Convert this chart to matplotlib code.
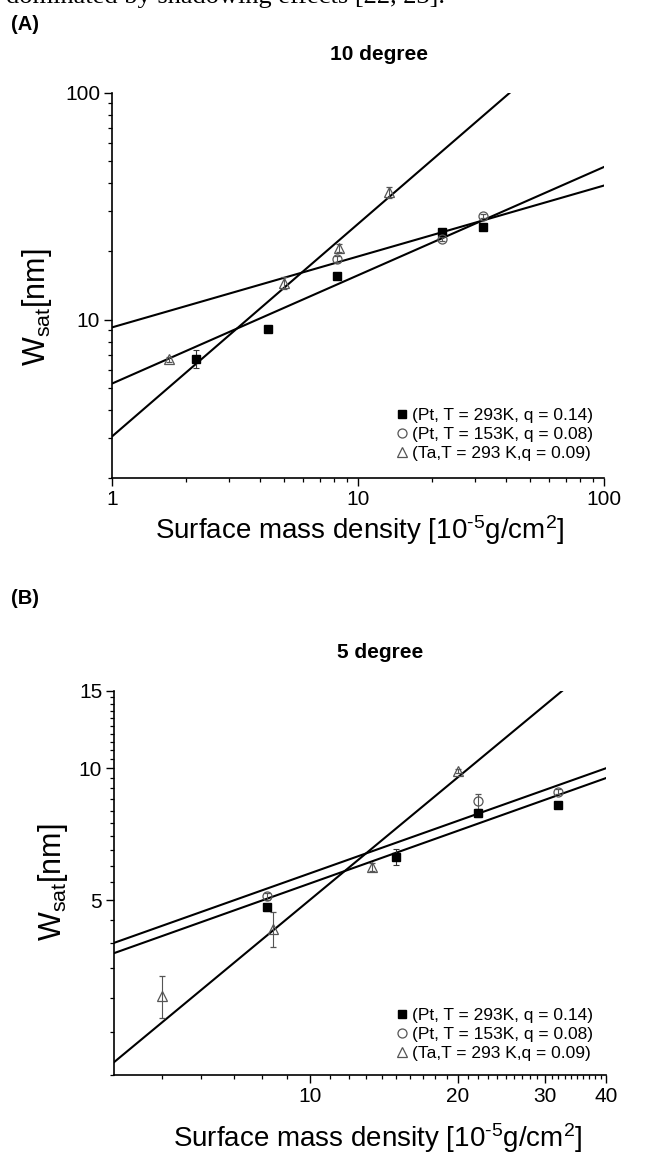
import numpy as np
import matplotlib
matplotlib.use("Agg")
import matplotlib.pyplot as plt
from matplotlib.lines import Line2D
from matplotlib.ticker import FixedLocator, NullFormatter, FixedFormatter

plt.rcParams['font.family'] = ['Liberation Sans', 'DejaVu Sans']
plt.rcParams['mathtext.fontset'] = 'custom'
plt.rcParams['mathtext.rm'] = 'Liberation Sans'
plt.rcParams['mathtext.it'] = 'Liberation Sans:italic'
plt.rcParams['mathtext.bf'] = 'Liberation Sans:bold'

# ---------------- data: panel A (10 degree) ----------------
a_pt293_x = [2.2, 4.3, 8.2, 21.9, 32.1]
a_pt293_y = [6.73, 9.1, 15.5, 24.3, 25.6]
a_pt293_e = [0.6, 0.3, 0.4, 0.5, 0.4]

a_pt153_x = [8.2, 21.9, 32.1]
a_pt153_y = [18.5, 22.7, 28.6]
a_pt153_e = [0.6, 0.5, 0.5]

a_ta_x = [1.7, 5.0, 8.4, 13.4]
a_ta_y = [6.67, 14.5, 20.7, 36.5]
a_ta_e = [0.2, 0.9, 0.8, 2.0]

# power-law fits W = pref * x**exp
a_fit_pref = [3.05, 9.24, 5.22]
a_fit_exp = [0.938, 0.313, 0.478]

# ---------------- data: panel B (5 degree) ----------------
b_pt293_x = [8.2, 15.0, 22.0, 32.0]
b_pt293_y = [4.82, 6.28, 7.89, 8.23]
b_pt293_e = [0.08, 0.25, 0.15, 0.1]

b_pt153_x = [8.2, 22.0, 32.0]
b_pt153_y = [5.11, 8.41, 8.84]
b_pt153_e = [0.1, 0.32, 0.12]

b_ta_x = [5.0, 8.4, 13.4, 20.0]
b_ta_y = [3.03, 4.31, 5.96, 9.86]
b_ta_e = [0.33, 0.4, 0.13, 0.1]

b_fit_pref = [0.590, 2.304, 2.18]
b_fit_exp = [0.929, 0.398, 0.399]

legend_labels = ['(Pt, T = 293K, q = 0.14)',
                 '(Pt, T = 153K, q = 0.08)',
                 '(Ta,T = 293 K,q = 0.09)']

a_xticks = [1, 10, 100]
a_yticks = [10, 100]
b_xticks = [10, 20, 30, 40]
b_yticks = [5, 10, 15]

W, H = 649, 1159
fig = plt.figure(figsize=(W / 100, H / 100), dpi=100)
fig.patch.set_facecolor('white')

axA = fig.add_axes([112 / W, 1 - 478 / H, 492 / W, 385 / H])
axB = fig.add_axes([114 / W, 1 - 1075 / H, 492 / W, 384 / H])

GRAY = '#555555'


def draw(ax, xlim, ylim, s_x, s_y, s_e, c_x, c_y, c_e, t_x, t_y, t_e, prefs, exps):
    ax.set_xscale('log')
    ax.set_yscale('log')
    ax.set_xlim(*xlim)
    ax.set_ylim(*ylim)
    xs = np.geomspace(xlim[0], xlim[1], 200)
    for p, e in zip(prefs, exps):
        ax.plot(xs, p * xs ** e, color='black', lw=1.5, zorder=2)
    ekw = dict(ls='none', elinewidth=0.8, capsize=2.5, capthick=0.8, zorder=3)
    ax.errorbar(s_x, s_y, yerr=s_e, marker='s', ms=6, mfc='black', mec='black',
                ecolor='#333333', **ekw)
    ax.errorbar(c_x, c_y, yerr=c_e, marker='o', ms=6.5, mfc='none', mec=GRAY,
                mew=0.9, ecolor=GRAY, **ekw)
    ax.errorbar(t_x, t_y, yerr=t_e, marker='^', ms=7.5, mfc='none', mec=GRAY,
                mew=0.9, ecolor=GRAY, **ekw)
    for sp in ['top', 'right']:
        ax.spines[sp].set_visible(False)
    for sp in ['left', 'bottom']:
        ax.spines[sp].set_linewidth(1.2)
    ax.tick_params(which='major', direction='out', length=5.5, width=1.0,
                   labelsize=15, pad=3)
    ax.tick_params(which='minor', direction='out', length=3, width=0.9)


draw(axA, (1, 100), (2, 100), a_pt293_x, a_pt293_y, a_pt293_e,
     a_pt153_x, a_pt153_y, a_pt153_e, a_ta_x, a_ta_y, a_ta_e, a_fit_pref, a_fit_exp)
draw(axB, (4, 40), (2, 15), b_pt293_x, b_pt293_y, b_pt293_e,
     b_pt153_x, b_pt153_y, b_pt153_e, b_ta_x, b_ta_y, b_ta_e, b_fit_pref, b_fit_exp)

# ticks panel A
axA.xaxis.set_major_locator(FixedLocator(a_xticks))
axA.xaxis.set_major_formatter(FixedFormatter([str(v) for v in a_xticks]))
axA.xaxis.set_minor_locator(FixedLocator([m * 10 ** d for d in range(0, 2) for m in range(2, 10)]))
axA.xaxis.set_minor_formatter(NullFormatter())
axA.yaxis.set_major_locator(FixedLocator(a_yticks))
axA.yaxis.set_major_formatter(FixedFormatter([str(v) for v in a_yticks]))
axA.yaxis.set_minor_locator(FixedLocator([m * 10 ** d for d in range(0, 2) for m in range(2, 10)]))
axA.yaxis.set_minor_formatter(NullFormatter())

# ticks panel B
axB.xaxis.set_major_locator(FixedLocator(b_xticks))
axB.xaxis.set_major_formatter(FixedFormatter([str(v) for v in b_xticks]))
axB.xaxis.set_minor_locator(FixedLocator([v for v in range(5, 40) if v not in b_xticks]))
axB.xaxis.set_minor_formatter(NullFormatter())
axB.yaxis.set_major_locator(FixedLocator(b_yticks))
axB.yaxis.set_major_formatter(FixedFormatter([str(v) for v in b_yticks]))
axB.yaxis.set_minor_locator(FixedLocator([v for v in np.arange(2.0, 15.01, 0.5) if v not in b_yticks]))
axB.yaxis.set_minor_formatter(NullFormatter())

# legends
handles = [Line2D([], [], marker='s', ls='none', ms=6, mfc='black', mec='black'),
           Line2D([], [], marker='o', ls='none', ms=6.5, mfc='none', mec=GRAY, mew=0.9),
           Line2D([], [], marker='^', ls='none', ms=7.5, mfc='none', mec=GRAY, mew=0.9)]
for ax, anchor in [(axA, ((593 - 112) / 492, (478 - 461) / 385)),
                   (axB, ((593 - 114) / 492, (1075 - 1061) / 384))]:
    ax.legend(handles, legend_labels, loc='lower right', bbox_to_anchor=anchor,
              frameon=False, fontsize=12.5, handlelength=0.6, handletextpad=0.25,
              labelspacing=0.22, borderpad=0, borderaxespad=0)

# labels
xlabel = 'Surface mass density [10$^{\\mathrm{\u2010}5}$g/cm$^{\\mathrm{2}}$]'
ylabel = r'W$_{\mathrm{sat}}$[nm]'
fig.text(360 / W, 1 - 530 / H, xlabel, ha='center', va='center', fontsize=20)
fig.text(378 / W, 1 - 1138 / H, xlabel, ha='center', va='center', fontsize=20)
fig.text(37 / W, 1 - 307 / H, ylabel, ha='center', va='center', fontsize=22, rotation=90)
fig.text(53 / W, 1 - 882 / H, ylabel, ha='center', va='center', fontsize=22, rotation=90)

fig.text(379 / W, 1 - 55 / H, '10 degree', ha='center', va='center', fontsize=15, fontweight='bold')
fig.text(380 / W, 1 - 652 / H, '5 degree', ha='center', va='center', fontsize=15, fontweight='bold')
fig.text(11 / W, 1 - 25 / H, '(A)', ha='left', va='center', fontsize=14.5, fontweight='bold')
fig.text(11 / W, 1 - 598 / H, '(B)', ha='left', va='center', fontsize=14.5, fontweight='bold')

fig.text(6 / W, 1 - 3 / H, 'dominated by shadowing effects [22, 23].', ha='left', va='baseline',
         fontsize=19, family=['Liberation Serif', 'DejaVu Serif'])

fig.savefig('out.png', dpi=100, facecolor='white')
